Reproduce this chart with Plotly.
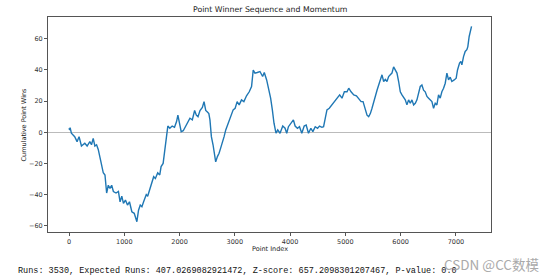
import plotly.graph_objects as go

point_index = [0, 12, 20, 43, 103, 146, 182, 225, 286, 328, 377, 407, 438, 468, 499, 529, 572, 620, 651, 681,
               711, 742, 772, 803, 851, 894, 924, 955, 985, 1021, 1058, 1094, 1137, 1180, 1228, 1258, 1289, 1319,
               1350, 1398, 1423, 1459, 1490, 1532, 1563, 1605, 1642, 1666, 1703, 1727, 1763, 1788, 1824, 1867,
               1909, 1946, 1970, 2006, 2030, 2067, 2091, 2140, 2188, 2231, 2273, 2304, 2334, 2370, 2413, 2443,
               2474, 2504, 2530, 2550, 2576, 2606, 2636, 2654, 2685, 2715, 2745, 2776, 2806, 2836, 2879, 2921,
               2970, 3006, 3042, 3079, 3121, 3164, 3212, 3261, 3303, 3333, 3364, 3406, 3455, 3503, 3533, 3576,
               3618, 3648, 3679, 3709, 3745, 3776, 3818, 3867, 3909, 3939, 3970, 4012, 4060, 4091, 4133, 4170,
               4212, 4255, 4291, 4333, 4376, 4412, 4455, 4497, 4533, 4576, 4606, 4636, 4667, 4709, 4758, 4800,
               4848, 4897, 4939, 4982, 5030, 5061, 5103, 5152, 5200, 5242, 5285, 5320, 5362, 5392, 5422, 5452,
               5482, 5512, 5542, 5573, 5603, 5633, 5663, 5693, 5723, 5753, 5783, 5813, 5843, 5873, 5904, 5934,
               5964, 5994, 6024, 6054, 6084, 6114, 6144, 6175, 6205, 6235, 6265, 6295, 6325, 6355, 6385, 6415,
               6445, 6476, 6506, 6536, 6566, 6596, 6626, 6656, 6686, 6716, 6746, 6777, 6807, 6837, 6867, 6897,
               6927, 6969, 7005, 7029, 7066, 7090, 7108, 7138, 7168, 7198, 7216, 7240, 7283]
cumulative_wins = [2.6, 1.5, 3, -0.6, -2.8, -6, -2.8, -8.8, -7, -8.8, -6, -8, -3.9, -8.8, -8, -11, -18, -26, -27.4, -39,
                   -34, -36, -34, -38, -39, -38, -44.6, -41, -45.6, -43.5, -46.7, -44.6, -51, -52, -57.4, -50, -46.7, -47.8,
                   -44.6, -40, -41, -37, -34, -28.5, -29.6, -26, -27.4, -22, -20, -12.4, -0.6, 4, 2.6, 4,
                   3.2, 6.9, 11, 5.8, 0.4, 1, 2.6, 5.8, 9, 8, 14, 11, 10, 14, 16, 19.7,
                   14, 13, 12, 8, -2.8, -8, -13.5, -19, -15.6, -13.5, -10, -7, -2.8, 1.5, 5.8, 10,
                   14.4, 15.4, 19.7, 17.6, 20.8, 19.7, 23.4, 26, 29.4, 40, 38, 38.4, 39, 35.8, 38.4, 33.6,
                   27, 21.9, 14.4, 5.8, -0.6, 1.5, -0.6, 4, 2.6, -0.6, 3.6, 5.8, 8, 4, 2.6, 3.6,
                   -0.6, 4, 4.7, -0.6, 2.6, 0.4, 3.6, 2.6, 4, 3.2, 3.6, 9, 14.4, 15.4, 17.6, 19.7,
                   21.9, 24, 21.9, 26, 26, 28.3, 26, 24, 23.4, 21.2, 19.7, 19.7, 14.4, 11, 10, 12,
                   15.4, 19.7, 23, 27, 30.4, 33.6, 36.9, 32.6, 34, 32.6, 35.8, 36.9, 38, 42, 40, 38,
                   32.6, 26, 24, 21.9, 20.8, 17.6, 20.8, 18.6, 20.8, 17.6, 18.6, 20.8, 26, 29.4, 30.4, 27,
                   26, 23, 21.9, 20.8, 19.7, 15.4, 18.6, 17.6, 24, 21.9, 26, 28.3, 31.5, 38, 33.6, 35.4,
                   32.6, 33.6, 34.7, 40, 44.4, 45.4, 43.3, 48.6, 51.9, 53, 55, 61.5, 68]

x_ticks = [0, 1000, 2000, 3000, 4000, 5000, 6000, 7000]
y_ticks = [-60, -40, -20, 0, 20, 40, 60]

title_text = "Point Winner Sequence and Momentum"
x_label = "Point Index"
y_label = "Cumulative Point Wins"
stats_text = "Runs: 3530, Expected Runs: 407.0269082921472, Z-score: 657.2098301207467, P-value: 0.0"
watermark = "CSDN @CC数模"

fig = go.Figure()
fig.add_trace(go.Scatter(x=point_index, y=cumulative_wins, mode="lines",
                         line=dict(color="#1f77b4", width=1.4), showlegend=False))

axis_common = dict(showline=True, mirror=True, linecolor="#555555", linewidth=1,
                   ticks="outside", ticklen=3, tickwidth=0.8, tickcolor="#555555",
                   showgrid=False, tickfont=dict(family="DejaVu Sans", size=6.5, color="#333333"))

fig.update_layout(
    width=554, height=280,
    margin=dict(l=48, r=63, t=17, b=48),
    paper_bgcolor="white", plot_bgcolor="white",
    xaxis=dict(range=[-380, 7635], tickvals=x_ticks, zeroline=False, **axis_common),
    yaxis=dict(range=[-64, 74], tickvals=y_ticks, zeroline=True, zerolinecolor="#bbbbbb",
               zerolinewidth=1, **axis_common),
    annotations=[
        dict(text=title_text, xref="paper", yref="paper", x=0.5, y=1.033, showarrow=False,
             xanchor="center", yanchor="middle", font=dict(family="DejaVu Sans", size=7.8, color="#222222")),
        dict(text=x_label, xref="paper", yref="paper", x=0.5, y=-0.079, showarrow=False,
             xanchor="center", yanchor="middle", font=dict(family="DejaVu Sans", size=6.5, color="#222222")),
        dict(text=y_label, xref="paper", yref="paper", x=-0.0564, y=0.5, showarrow=False, textangle=-90,
             xanchor="center", yanchor="middle", font=dict(family="DejaVu Sans", size=6.5, color="#222222")),
        dict(text=stats_text, xref="paper", yref="paper", x=-0.0722, y=-0.181, showarrow=False,
             xanchor="left", yanchor="middle", font=dict(family="Liberation Mono", size=8.5, color="#111111")),
        dict(text=watermark, xref="paper", yref="paper", x=0.889, y=-0.149, showarrow=False,
             xanchor="left", yanchor="middle", font=dict(family="Noto Sans CJK SC", size=13.5, color="#aaaaaa")),
    ],
)

fig.write_html("out.html")
